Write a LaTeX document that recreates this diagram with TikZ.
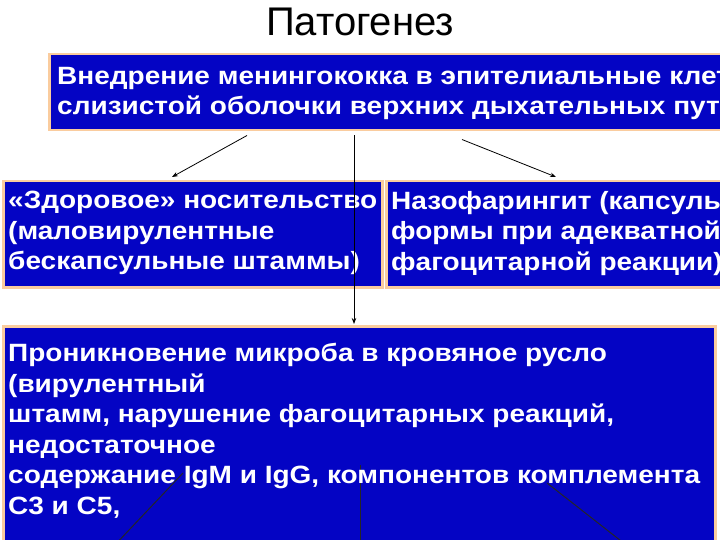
\documentclass[tikz,border=0pt]{standalone}
\usepackage{fontspec}
\setmainfont{Liberation Sans}
\newfontfamily\widefont[FakeStretch=1.12]{Liberation Sans}
\usepackage{tikz}
\usetikzlibrary{arrows.meta,positioning}
\definecolor{boxfill}{RGB}{4,4,196}
\definecolor{boxedge}{RGB}{250,204,158}

\begin{document}
\begin{tikzpicture}[
        x=1pt, y=-1pt,
        box/.style = {draw=boxedge, line width=2.5pt, fill=boxfill, inner sep=0, anchor=north west},
        txt/.style = {text=white, font=\widefont\bfseries\fontsize{25}{30.6}\selectfont, align=left, anchor=north west, inner sep=0},
        arr/.style = {-{Stealth[length=6pt,width=4.5pt]}, line width=0.8pt},
        ln/.style = {line width=1pt, black!85},
        ]
        \useasboundingbox (0,0) rectangle (720,540);
        \clip (0,0) rectangle (720,540);
        \fill[white] (0,0) rectangle (720,540);

        \node(title) at (360,22) [font=\fontsize{40}{44}\selectfont] {Патогенез};

        \node[box](top) at (48,53) [minimum width=697pt, minimum height=76pt] {};
        \node[box](lft) at (2,180) [minimum width=379pt, minimum height=106pt] {};
        \node[box](rgt) at (385,180) [minimum width=360pt, minimum height=106pt] {};
        \node[box](bot) at (2,325) [minimum width=712pt, minimum height=240pt] {};

        \coordinate (e1) at (112,548);
        \coordinate (e2) at (360,548);
        \coordinate (e3) at (630,548);
        \draw[ln] ([xshift=181pt,yshift=-148pt]bot.north west) -- (e1);
        \draw[ln] ([xshift=358pt,yshift=-140pt]bot.north west) -- (e2);
        \draw[ln] ([xshift=545pt,yshift=-158pt]bot.north west) -- (e3);

        \node[txt](t1) at (57,67) {Внедрение менингококка в эпителиальные клетки\\слизистой оболочки верхних дыхательных путей};
        \node[txt](t2) at (8,191) {«Здоровое» носительство\\(маловирулентные\\бескапсульные штаммы)};
        \node[txt](t3) at (391,191) {Назофарингит (капсульные\\формы при адекватной\\фагоцитарной реакции)};
        \node[txt](t4) at (8,343) {Проникновение микроба в кровяное русло\\(вирулентный\\штамм, нарушение фагоцитарных реакций,\\недостаточное\\содержание IgM и IgG, компонентов комплемента\\С3 и С5,};

        \draw[arr] ([xshift=199pt,yshift=-4pt]top.south west) -- ([xshift=170pt,yshift=3pt]lft.north west);
        \draw[arr] ([xshift=306pt,yshift=-4pt]top.south west) -- ([xshift=352pt,yshift=1pt]bot.north west);
        \draw[arr] ([xshift=414pt,yshift=-8pt]top.south west) -- ([xshift=171pt,yshift=3pt]rgt.north west);

\end{tikzpicture}
\end{document}
